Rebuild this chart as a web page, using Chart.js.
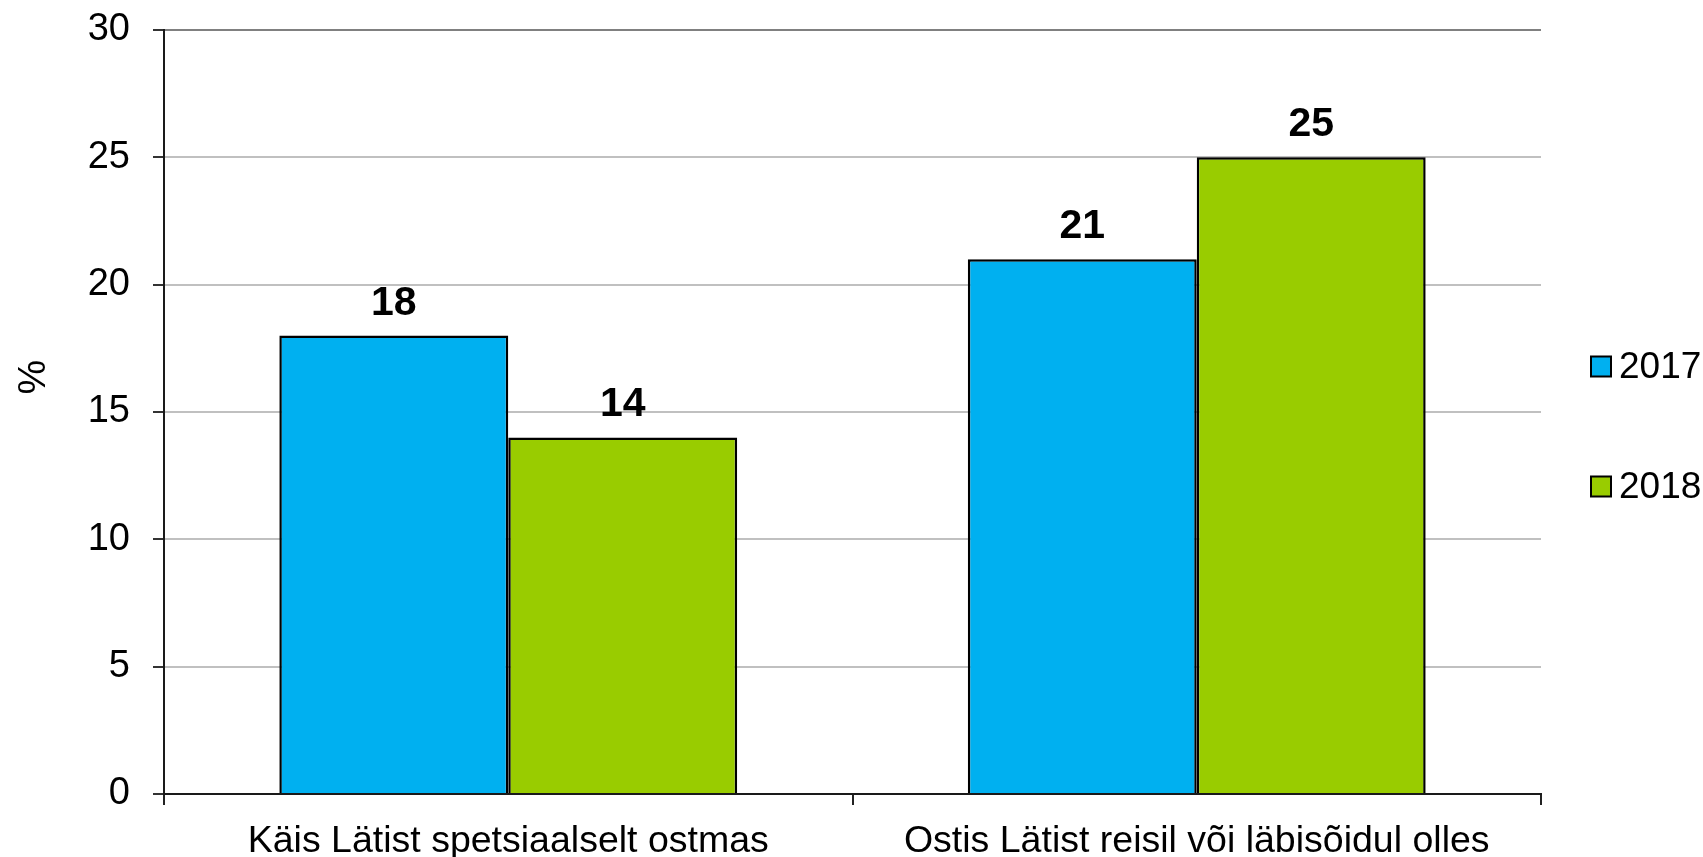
<!DOCTYPE html>
<html>
<head>
<meta charset="utf-8">
<script src="https://cdn.jsdelivr.net/npm/chart.js@4/dist/chart.umd.min.js"></script>
<style>
  body { margin: 0; background: #fff; }
  canvas { display: block; }
</style>
</head>
<body>
<canvas id="BarChart" width="1703" height="857"></canvas>
<script>
const categories = ["Käis Lätist spetsiaalselt ostmas", "Ostis Lätist reisil või läbisõidul olles"];
const seriesNames = ["2017", "2018"];
const values2017 = [18, 21];
const values2018 = [14, 25];
const yTicks = [0, 5, 10, 15, 20, 25, 30];
const yTitle = "%";

const FONT = '"Liberation Sans", Arial, sans-serif';
const colors = ["#00b0f0", "#99cc00"];

// value labels above each bar
const valueLabels = {
  id: "valueLabels",
  afterDatasetsDraw(chart) {
    const ctx = chart.ctx;
    ctx.save();
    ctx.font = "bold 41px " + FONT;
    ctx.fillStyle = "#000";
    ctx.textAlign = "center";
    ctx.textBaseline = "alphabetic";
    chart.data.datasets.forEach((ds, i) => {
      chart.getDatasetMeta(i).data.forEach((bar, j) => {
        ctx.fillText(String(ds.data[j]), bar.x, bar.y - 21);
      });
    });
    ctx.restore();
  },
};

// legend on the right and the rotated y title
const sideText = {
  id: "sideText",
  afterDraw(chart) {
    const ctx = chart.ctx;
    const area = chart.chartArea;
    ctx.save();
    ctx.font = "37px " + FONT;
    ctx.textBaseline = "middle";
    chart.data.datasets.forEach((ds, i) => {
      const cy = chart.height / 2 - 62 + i * 120;
      const x = area.right + 50;
      ctx.fillStyle = ds.backgroundColor;
      ctx.fillRect(x, cy - 10, 20, 20);
      ctx.strokeStyle = "#000";
      ctx.lineWidth = 2;
      ctx.strokeRect(x, cy - 10, 20, 20);
      ctx.fillStyle = "#000";
      ctx.textAlign = "left";
      ctx.fillText(ds.label, x + 28, cy + 1);
    });
    ctx.font = "39px " + FONT;
    ctx.translate(34, chart.height * 0.44);
    ctx.rotate(-Math.PI / 2);
    ctx.textAlign = "center";
    ctx.fillText(yTitle, 0, 0);
    ctx.restore();
  },
};

const data = {
  labels: categories,
  datasets: [
    {
      label: seriesNames[0],
      data: values2017,
      backgroundColor: colors[0],
      borderColor: "#000",
      borderWidth: 2.5,
      categoryPercentage: 0.665,
      barPercentage: 1,
    },
    {
      label: seriesNames[1],
      data: values2018,
      backgroundColor: colors[1],
      borderColor: "#000",
      borderWidth: 2.5,
      categoryPercentage: 0.665,
      barPercentage: 1,
    },
  ],
};

const options = {
  responsive: false,
  animation: false,
  layout: { padding: { top: 30, right: 162, left: 0, bottom: 0 } },
  plugins: {
    legend: { display: false },
    tooltip: { enabled: false },
  },
  scales: {
    x: {
      afterFit: (s) => { s.height = 63; },
      grid: {
        offset: true,
        drawOnChartArea: true,
        color: (c) => (c.index === categories.length ? "#808080" : "transparent"),
        tickColor: (c) => (c.index === categories.length ? "#808080" : "#222"),
        lineWidth: 2,
        tickLength: 11,
      },
      border: { color: "#1a1a1a", width: 2 },
      ticks: { color: "#000", font: { family: FONT, size: 37.5 }, padding: 14 },
    },
    y: {
      min: 0,
      max: 30,
      afterFit: (s) => { s.width = 164; s.paddingTop = 0; s.paddingBottom = 0; },
      afterBuildTicks: (s) => { s.ticks = yTicks.map((v) => ({ value: v })); },
      grid: {
        color: (c) => (c.tick && c.tick.value === 30 ? "#808080" : "#c0c0c0"),
        tickColor: "#333",
        lineWidth: 2,
        tickLength: 11,
      },
      border: { color: "#1a1a1a", width: 2 },
      ticks: { color: "#000", font: { family: FONT, size: 38 }, padding: 23 },
    },
  },
};

const myBarChart = new Chart(document.getElementById("BarChart").getContext("2d"), {
  type: "bar",
  data: data,
  options: options,
  plugins: [valueLabels, sideText],
});
</script>
</body>
</html>
